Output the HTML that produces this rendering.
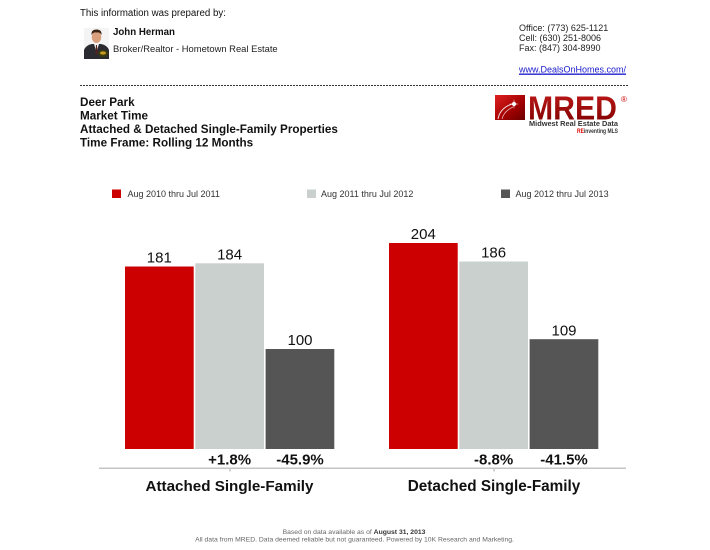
<!DOCTYPE html>
<html><head><meta charset="utf-8"><style>
html,body{margin:0;padding:0;background:#fff;}
svg{display:block;}
text{font-family:"Liberation Sans",Arial,Helvetica,sans-serif;}
</style></head><body>
<svg width="710" height="550" viewBox="0 0 710 550" xmlns="http://www.w3.org/2000/svg">
<defs>
<linearGradient id="lg" x1="0" y1="0" x2="1" y2="1">
<stop offset="0" stop-color="#e02020"/><stop offset="0.6" stop-color="#a00000"/><stop offset="1" stop-color="#6a0000"/>
</linearGradient>
<linearGradient id="mg" x1="0" y1="0" x2="0" y2="1">
<stop offset="0" stop-color="#c41a1a"/><stop offset="1" stop-color="#7a0000"/>
</linearGradient>
</defs>
<rect width="710" height="550" fill="#fff"/>

<!-- Header -->
<text x="80" y="16" font-size="9.7" fill="#111">This information was prepared by:</text>
<!-- photo -->
<g>
<rect x="84" y="28" width="25" height="31" fill="#f4f4f4"/>
<path d="M84 59 L84 50 Q86 45 92 44 L101 44 Q107 45 109 50 L109 59 Z" fill="#2a2a30"/>
<path d="M94 44 L96.5 52 L99 44 Z" fill="#f0f0f0"/>
<path d="M96 45 L97 45 L97.5 53 L96.5 55 L95.5 53 Z" fill="#5a2020"/>
<ellipse cx="96.5" cy="37" rx="4.8" ry="6" fill="#d9a07e"/>
<path d="M91.5 35 Q91 29.5 96.5 29.5 Q102 29.5 101.5 35 Q100 32 96.5 32.5 Q93 32 91.5 35Z" fill="#3a2418"/>
<ellipse cx="103" cy="53.5" rx="5" ry="3.5" fill="#3b3b10"/>
<ellipse cx="103" cy="53" rx="3" ry="1.6" fill="#c89a20"/>
</g>
<text x="113" y="35" font-size="9.7" font-weight="bold" fill="#111">John Herman</text>
<text x="113" y="52" font-size="9.4" fill="#222">Broker/Realtor - Hometown Real Estate</text>

<text x="519" y="31" font-size="9" fill="#222">Office: (773) 625-1121</text>
<text x="519" y="41" font-size="9" fill="#222">Cell: (630) 251-8006</text>
<text x="519" y="51" font-size="9" fill="#222">Fax: (847) 304-8990</text>
<text x="519" y="72.5" font-size="9" fill="#1a1acc" text-decoration="underline">www.DealsOnHomes.com/</text>
<line x1="519" y1="74.5" x2="626" y2="74.5" stroke="#1a1acc" stroke-width="0.7"/>

<line x1="80" y1="85.5" x2="628" y2="85.5" stroke="#333" stroke-width="1" stroke-dasharray="2,1"/>

<text x="80" y="106" font-size="11.7" font-weight="bold" fill="#111">Deer Park</text>
<text x="80" y="119.5" font-size="11.7" font-weight="bold" fill="#111">Market Time</text>
<text x="80" y="133" font-size="11.7" font-weight="bold" fill="#111">Attached &amp; Detached Single-Family Properties</text>
<text x="80" y="146.5" font-size="11.7" font-weight="bold" fill="#111">Time Frame: Rolling 12 Months</text>

<!-- MRED logo -->
<g>
<rect x="495" y="95" width="30" height="25" fill="url(#lg)"/>
<path d="M498 119 Q500 108 512 104" stroke="#fff" stroke-width="1" fill="none" opacity="0.85"/>
<path d="M502 119 Q504 111 513 107" stroke="#fff" stroke-width="0.8" fill="none" opacity="0.7"/>
<circle cx="514" cy="104" r="2" fill="#fff"/>
<path d="M514 99 L514.6 103.4 L519 104 L514.6 104.6 L514 109 L513.4 104.6 L509 104 L513.4 103.4 Z" fill="#fff"/>
<text x="528" y="119.5" font-size="33" font-weight="bold" fill="url(#mg)" textLength="89" lengthAdjust="spacingAndGlyphs">MRED</text>
<text x="621" y="102" font-size="8" fill="#c00">®</text>
<text x="529" y="126" font-size="7" font-weight="bold" fill="#333" textLength="89" lengthAdjust="spacingAndGlyphs">Midwest Real Estate Data</text>
<text x="577" y="133" font-size="6" font-weight="bold" fill="#333" textLength="41" lengthAdjust="spacingAndGlyphs"><tspan fill="#d00">RE</tspan>inventing MLS</text>
</g>

<!-- Legend -->
<rect x="112" y="189.5" width="9" height="8.5" fill="#cc0000"/>
<text x="127.5" y="196.8" font-size="9" fill="#333">Aug 2010 thru Jul 2011</text>
<rect x="307" y="189.5" width="9" height="8.5" fill="#c9d0ce"/>
<text x="321" y="196.8" font-size="9" fill="#333">Aug 2011 thru Jul 2012</text>
<rect x="501" y="189.5" width="9" height="8.5" fill="#555555"/>
<text x="515.5" y="196.8" font-size="9" fill="#333">Aug 2012 thru Jul 2013</text>

<!-- Bars: Attached -->
<rect x="125" y="266.5" width="68.7" height="182.5" fill="#cc0000"/>
<rect x="195.3" y="263.3" width="68.7" height="185.7" fill="#c9d0ce"/>
<rect x="265.6" y="349" width="68.7" height="100" fill="#555555"/>
<!-- Bars: Detached -->
<rect x="389" y="243" width="68.7" height="206" fill="#cc0000"/>
<rect x="459.3" y="261.5" width="68.7" height="187.5" fill="#c9d0ce"/>
<rect x="529.6" y="339.2" width="68.7" height="109.8" fill="#555555"/>

<!-- value labels -->
<g font-size="15" fill="#111" text-anchor="middle">
<text x="159.3" y="262.6">181</text>
<text x="229.6" y="259.3">184</text>
<text x="300" y="345">100</text>
<text x="423.3" y="239">204</text>
<text x="493.6" y="257.5">186</text>
<text x="564" y="335.4">109</text>
</g>

<!-- percent labels -->
<g font-size="15" font-weight="bold" fill="#111" text-anchor="middle">
<text x="229.6" y="464.3">+1.8%</text>
<text x="300" y="464.3">-45.9%</text>
<text x="493.6" y="464.3">-8.8%</text>
<text x="564" y="464.3">-41.5%</text>
</g>

<!-- axis -->
<line x1="99" y1="468.3" x2="626" y2="468.3" stroke="#c4c4c4" stroke-width="1.5"/>
<line x1="230" y1="469" x2="230" y2="471.5" stroke="#aaa" stroke-width="1"/>
<line x1="494" y1="469" x2="494" y2="471.5" stroke="#aaa" stroke-width="1"/>

<text x="229.5" y="491" font-size="15.2" font-weight="bold" fill="#111" text-anchor="middle">Attached Single-Family</text>
<text x="494" y="491" font-size="15.3" font-weight="bold" fill="#111" text-anchor="middle">Detached Single-Family</text>

<!-- footer -->
<text x="354" y="534" font-size="6.8" fill="#666" text-anchor="middle">Based on data available as of <tspan font-weight="bold" fill="#333">August 31, 2013</tspan></text>
<text x="354.5" y="541.5" font-size="6.8" fill="#666" text-anchor="middle">All data from MRED. Data deemed reliable but not guaranteed. Powered by 10K Research and Marketing.</text>
</svg>
</body></html>
